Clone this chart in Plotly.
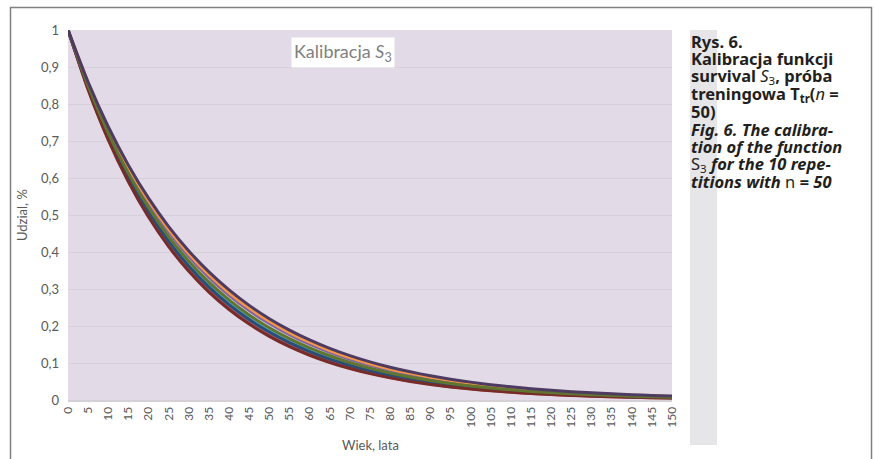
import plotly.graph_objects as go

ages = list(range(0, 155, 5))

# Series values (survival share by age, step 5 years)
s1 = [1, 0.8426, 0.7100, 0.5983, 0.5041, 0.4248, 0.3579, 0.3016, 0.2541, 0.2141, 0.1805, 0.1521, 0.1281, 0.1080, 0.0910, 0.0767, 0.0646, 0.0544, 0.0459, 0.0386, 0.0326, 0.0274, 0.0231, 0.0195, 0.0164, 0.0138, 0.0116, 0.0098, 0.0083, 0.0070, 0.0059]
s2 = [1, 0.8396, 0.7049, 0.5919, 0.4969, 0.4172, 0.3503, 0.2941, 0.2469, 0.2073, 0.1741, 0.1461, 0.1227, 0.1030, 0.0865, 0.0726, 0.0610, 0.0512, 0.0430, 0.0361, 0.0303, 0.0254, 0.0213, 0.0179, 0.0150, 0.0126, 0.0106, 0.0089, 0.0075, 0.0063, 0.0053]
s3 = [1, 0.8474, 0.7181, 0.6086, 0.5157, 0.4370, 0.3703, 0.3138, 0.2659, 0.2254, 0.1910, 0.1618, 0.1371, 0.1162, 0.0985, 0.0835, 0.0707, 0.0599, 0.0508, 0.0430, 0.0365, 0.0309, 0.0262, 0.0222, 0.0188, 0.0159, 0.0135, 0.0114, 0.0097, 0.0082, 0.0070]
s4 = [1, 0.8541, 0.7295, 0.6230, 0.5321, 0.4545, 0.3881, 0.3315, 0.2831, 0.2418, 0.2066, 0.1764, 0.1507, 0.1287, 0.1099, 0.0939, 0.0802, 0.0685, 0.0585, 0.0500, 0.0427, 0.0364, 0.0311, 0.0266, 0.0227, 0.0194, 0.0166, 0.0141, 0.0121, 0.0103, 0.0088]
s5 = [1, 0.8455, 0.7149, 0.6045, 0.5111, 0.4322, 0.3654, 0.3090, 0.2612, 0.2209, 0.1868, 0.1579, 0.1335, 0.1129, 0.0955, 0.0807, 0.0683, 0.0577, 0.0488, 0.0413, 0.0349, 0.0295, 0.0249, 0.0211, 0.0178, 0.0151, 0.0127, 0.0108, 0.0091, 0.0077, 0.0065]
s6 = [1, 0.8566, 0.7337, 0.6285, 0.5384, 0.4612, 0.3951, 0.3384, 0.2899, 0.2483, 0.2127, 0.1822, 0.1561, 0.1337, 0.1145, 0.0981, 0.0840, 0.0720, 0.0617, 0.0528, 0.0452, 0.0388, 0.0332, 0.0284, 0.0244, 0.0209, 0.0179, 0.0153, 0.0131, 0.0112, 0.0096]
s7 = [1, 0.8441, 0.7125, 0.6014, 0.5077, 0.4285, 0.3617, 0.3053, 0.2577, 0.2175, 0.1836, 0.1550, 0.1308, 0.1104, 0.0932, 0.0787, 0.0664, 0.0561, 0.0473, 0.0400, 0.0337, 0.0285, 0.0240, 0.0203, 0.0171, 0.0144, 0.0122, 0.0103, 0.0087, 0.0073, 0.0062]
s8 = [1, 0.8386, 0.7032, 0.5897, 0.4945, 0.4147, 0.3477, 0.2916, 0.2445, 0.2051, 0.1720, 0.1442, 0.1209, 0.1014, 0.0850, 0.0713, 0.0598, 0.0502, 0.0421, 0.0353, 0.0296, 0.0248, 0.0208, 0.0174, 0.0146, 0.0123, 0.0103, 0.0086, 0.0072, 0.0061, 0.0051]
s9 = [1, 0.8493, 0.7212, 0.6125, 0.5202, 0.4418, 0.3752, 0.3186, 0.2706, 0.2298, 0.1952, 0.1658, 0.1408, 0.1196, 0.1015, 0.0862, 0.0732, 0.0622, 0.0528, 0.0448, 0.0381, 0.0324, 0.0275, 0.0233, 0.0198, 0.0168, 0.0143, 0.0121, 0.0103, 0.0088, 0.0074]
s10 = [1, 0.8594, 0.7386, 0.6347, 0.5455, 0.4688, 0.4029, 0.3462, 0.2976, 0.2557, 0.2198, 0.1889, 0.1623, 0.1395, 0.1199, 0.1030, 0.0885, 0.0761, 0.0654, 0.0562, 0.0483, 0.0415, 0.0357, 0.0306, 0.0263, 0.0226, 0.0195, 0.0167, 0.0144, 0.0123, 0.0106]

series = [s1, s2, s3, s4, s5, s6, s7, s8, s9, s10]
colors = ["#4F81BD", "#C0504D", "#9BBB59", "#8064A2", "#4BACC6",
          "#F79646", "#2C4D75", "#772C2A", "#5F7530", "#4D3B62"]

y_ticks = [0, 0.1, 0.2, 0.3, 0.4, 0.5, 0.6, 0.7, 0.8, 0.9, 1]
y_tick_text = ["0", "0,1", "0,2", "0,3", "0,4", "0,5", "0,6", "0,7", "0,8", "0,9", "1"]
x_ticks = list(range(0, 155, 5))

W, H = 874, 459
ML, MR, MT, MB = 68, 202, 30, 59
PW, PH = W - ML - MR, H - MT - MB

def px(x):
    return (x - ML) / PW

def py(y):
    return (H - MB - y) / PH

fig = go.Figure()
for i, (s, c) in enumerate(zip(series, colors)):
    fig.add_trace(go.Scatter(x=ages, y=s, mode="lines", name=f"Seria{i+1}",
                             line=dict(color=c, width=3, shape="spline", smoothing=0.6)))

chart_font = "Lato, 'Open Sans', sans-serif"
fig.update_layout(
    width=W, height=H,
    margin=dict(l=ML, r=MR, t=MT, b=MB),
    paper_bgcolor="white",
    plot_bgcolor="#E2DAE6",
    showlegend=False,
    font=dict(family=chart_font, color="#595959", size=12),
)
fig.update_xaxes(range=[0, 150], tickvals=x_ticks, ticktext=[str(v) for v in x_ticks],
                 tickangle=-90, showgrid=False, zeroline=False, showline=True,
                 linecolor="#D4D0D6", linewidth=2, ticks="", tickfont=dict(size=12, color="#595959"))
fig.update_yaxes(range=[0, 1], tickvals=y_ticks, ticktext=y_tick_text, showgrid=True,
                 gridcolor="#D6D0D9", gridwidth=1, zeroline=False, showline=False,
                 ticks="", ticklabelstandoff=8, tickfont=dict(size=13, color="#595959"))

shapes = []
# outer frame
shapes.append(dict(type="rect", xref="paper", yref="paper",
                   x0=px(10.5), x1=px(871.5), y0=py(470), y1=py(7.5),
                   line=dict(color="#808080", width=1.5), fillcolor="rgba(0,0,0,0)", layer="below"))
# grey strip beside caption
shapes.append(dict(type="rect", xref="paper", yref="paper",
                   x0=px(690), x1=px(717), y0=py(445), y1=py(30),
                   line=dict(width=0), fillcolor="#E6E6E8", layer="below"))
fig.update_layout(shapes=shapes)

ann = []
ann.append(dict(xref="paper", yref="paper", x=px(342.5), y=py(52.5), showarrow=False,
                text="Kalibracja <i>S</i><sub>3</sub>", font=dict(size=18, color="#7F7F7F", family=chart_font),
                bgcolor="white", borderpad=2, xanchor="center", yanchor="middle"))
ann.append(dict(xref="paper", yref="paper", x=px(22), y=py(215), showarrow=False,
                text="Udzial, %", textangle=-90, font=dict(size=13, color="#595959", family=chart_font),
                xanchor="center", yanchor="middle"))
ann.append(dict(xref="paper", yref="paper", x=px(370), y=py(445), showarrow=False,
                text="Wiek, lata", font=dict(size=13, color="#595959", family=chart_font),
                xanchor="center", yanchor="middle"))

cap_lines = [
    "<b>Rys. 6.</b>",
    "<b>Kalibracja funkcji</b>",
    "<b>survival </b><i>S</i><sub>3</sub><b>, próba</b>",
    "<b>treningowa T</b><sub><b>tr</b></sub><b>(</b><i>n</i><b> =</b>",
    "<b>50)</b>",
    "<b><i>Fig. 6. The calibra-</i></b>",
    "<b><i>tion of the function</i></b>",
    "S<sub>3</sub><b><i> for the 10 repe-</i></b>",
    "<b><i>titions with </i></b>n<b><i> = 50</i></b>",
]
cap_font = "'Noto Sans', 'Open Sans', sans-serif"
for k, t in enumerate(cap_lines):
    ann.append(dict(xref="paper", yref="paper", x=px(690), y=py(41 + 17.6 * k), showarrow=False,
                    text=t, font=dict(size=16.5, color="#231F20", family=cap_font),
                    xanchor="left", yanchor="middle", align="left", borderpad=0))
fig.update_layout(annotations=ann)

fig.write_html("out.html", config={"displayModeBar": False},
               post_script="document.body.style.margin='0px';document.body.style.overflow='hidden';")
